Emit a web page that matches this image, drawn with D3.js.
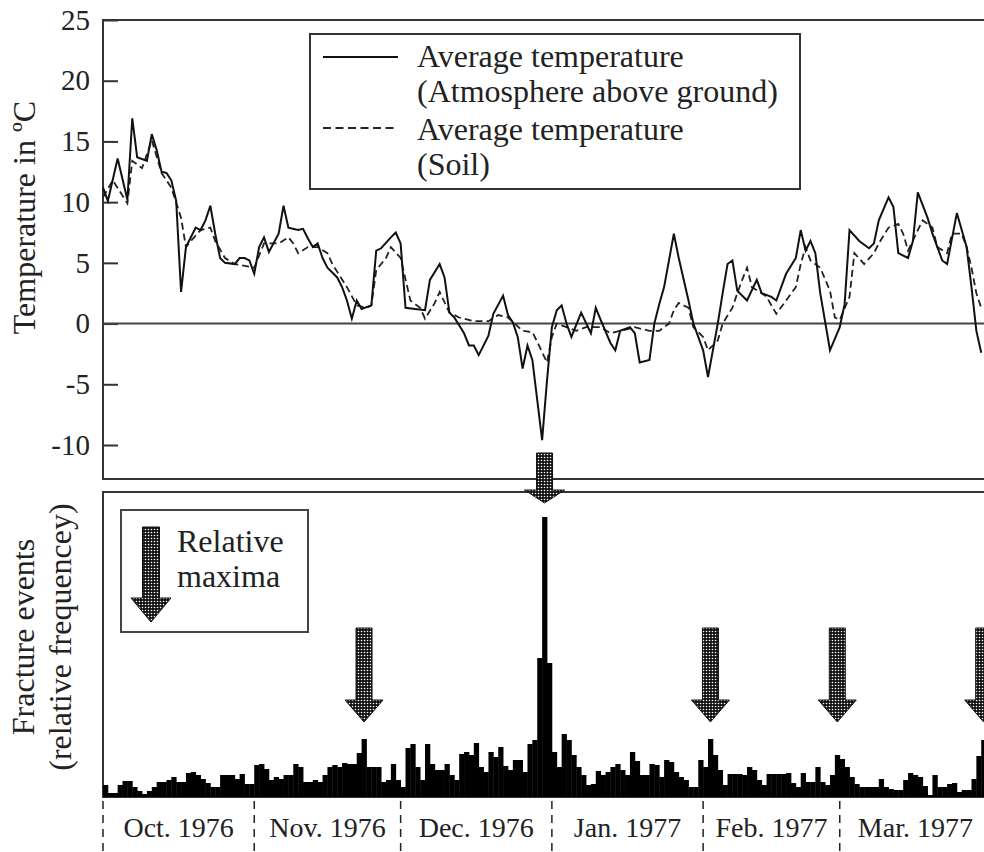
<!DOCTYPE html>
<html>
<head>
<meta charset="utf-8">
<script src="https://cdn.jsdelivr.net/npm/d3@7"></script>
<style>
  body { margin: 0; background: #fff; }
  svg { display: block; font-family: "Liberation Serif", "Times New Roman", serif; }
</style>
</head>
<body>
<div id="chart-area"></div>
<script>
// DATA
// =================

// air temperature (solid), day offset from 1 Oct 1976 -> degC
var airDays = [0, 1, 3, 5, 6, 7, 9, 10, 11, 12, 13, 14, 15, 16, 17, 19, 20, 21, 22, 23, 24, 25, 27, 28, 29, 30,
    31, 32, 33, 34, 36, 37, 38, 40, 41, 42, 43, 44, 45, 46, 48, 49, 50, 51, 52, 53, 55, 56, 57, 59, 60,
    61, 62, 64, 66, 67, 69, 70, 71, 72, 74, 75, 76, 77, 79, 80, 82, 83, 84, 85, 86, 87, 88, 90, 91,
    92, 93, 94, 95, 96, 98, 100, 101, 102, 104, 105, 106, 108, 109, 110, 112, 113, 114, 115, 117, 118, 120, 121,
    123, 124, 126, 127, 128, 129, 130, 132, 134, 135, 137, 138, 140, 142, 143, 144, 145, 146, 147, 149,
    151, 152, 153, 155, 157, 158, 159, 161, 162, 163, 165, 166, 167, 169, 170, 172, 173, 175, 176, 177, 178, 179, 180];
var airTemps = [11.2, 10.1, 13.6, 10.2, 16.9, 13.7, 13.4, 15.6, 14.3, 12.5, 12.4, 11.8, 10.1, 2.6, 6.3, 7.9, 7.7, 8.5, 9.7, 7.4, 5.4, 5.0, 4.9, 5.4, 5.4, 5.2,
    4.1, 6.3, 7.1, 5.9, 7.4, 9.7, 7.9, 7.7, 7.8, 7.0, 6.3, 6.6, 5.4, 4.6, 3.8, 3.0, 1.9, 0.4, 1.9, 1.2, 1.5, 6.0, 6.2, 7.1, 7.5,
    6.6, 1.3, 1.2, 1.1, 3.6, 4.9, 3.8, 0.9, 0.5, -0.8, -1.8, -1.8, -2.6, -1.0, 0.8, 2.3, 0.7, 0.1, -1.1, -3.7, -1.8, -3.0, -9.6, -4.7,
    -0.3, 1.1, 1.5, 0, -1.1, 0.9, -0.8, 1.3, 0.3, -1.6, -2.2, -0.6, -0.3, -0.8, -3.2, -3.0, 0, 1.6, 3.0, 7.4, 5.4, 1.9, 0,
    -2.2, -4.4, 0, 2.5, 4.9, 5.2, 2.7, 1.9, 3.6, 2.5, 2.2, 1.9, 4.1, 5.4, 7.7, 6.0, 6.8, 5.8, 2.5, -2.2,
    -0.3, 1.6, 7.7, 6.8, 6.2, 6.6, 8.5, 10.4, 9.6, 5.8, 5.4, 6.8, 10.8, 8.7, 7.4, 5.2, 4.9, 9.1, 7.7, 6.3, 3.0, -0.6, -2.4];

// soil temperature (dashed)
var soilDays = [0, 2, 5, 6, 8, 10, 12, 14, 16, 17, 18, 20, 22, 23, 25, 27,
    31, 33, 36, 38, 39, 40, 42, 44, 46, 47, 50, 52, 54, 55, 56, 58, 59,
    61, 63, 65, 66, 68, 69, 71, 73, 76, 79, 81, 83, 86, 88, 89, 91,
    92, 93, 95, 97, 99, 102, 104, 106, 109, 112, 114, 116, 117, 118, 120, 121,
    123, 124, 126, 127, 129, 130, 131, 132, 133, 135, 136, 138, 140, 142, 143, 144, 145, 147, 149, 150,
    151, 153, 154, 156, 158, 159, 161, 163, 164, 165, 167, 168, 170, 171, 173, 174, 176, 177, 178, 179, 180];
var soilTemps = [10.4, 11.8, 9.9, 13.4, 12.8, 15.1, 12.4, 11.2, 8.7, 6.3, 6.8, 7.7, 7.9, 6.8, 5.4, 4.9,
    4.6, 6.6, 6.6, 7.1, 6.6, 5.8, 6.3, 6.3, 5.8, 4.9, 3.0, 1.5, 1.3, 1.5, 4.4, 5.4, 6.3,
    5.4, 1.9, 1.3, 0.4, 1.7, 2.6, 0.9, 0.5, 0.2, 0.2, 0.7, 0.5, -0.6, -0.7, -1.5, -3.2,
    -1.1, 0, -0.3, -0.6, -0.3, -0.3, -0.8, -0.6, -0.3, -0.6, -0.6, 0, 1.1, 1.7, 1.3, -0.3,
    -1.1, -2.2, -1.4, 0, 1.3, 2.5, 3.6, 4.6, 3.0, 2.5, 2.2, 0.8, 1.9, 3.0, 4.9, 6.3, 5.2, 4.6, 2.7, 0.5,
    0.3, 2.2, 5.8, 4.9, 5.8, 6.6, 7.9, 8.2, 7.4, 6.0, 7.7, 8.5, 7.9, 6.3, 5.8, 7.4, 7.4, 6.3, 4.6, 2.5, 1.3];

// fracture events per day (relative frequency, arbitrary units)
var fracOct = [1.2, 0.4, 0.4, 1.2, 1.6, 1.6, 1.0, 0.6, 0.3, 0.6, 1.0, 1.5, 1.5, 1.7, 2.0, 1.5, 1.5, 2.4, 2.5, 2.2,
    1.8, 1.4, 1.0, 1.0, 2.2, 2.2, 2.2, 1.8, 2.3, 1.3, 1.3];
var fracNov = [3.2, 3.3, 2.8, 1.7, 2.0, 1.8, 2.2, 2.2, 3.3, 3.0, 1.5, 1.5, 1.7, 1.5, 2.2, 3.0, 3.2, 3.0, 3.4, 3.3,
    3.3, 4.4, 5.8, 3.0, 3.0, 3.0, 1.5, 1.7, 3.3, 1.7];
var fracDec = [1.0, 4.9, 5.3, 3.0, 1.7, 5.3, 3.3, 2.7, 2.7, 3.3, 2.2, 1.7, 4.3, 4.5, 4.2, 5.4, 3.0, 2.5, 4.5, 4.0,
    5.0, 3.1, 2.7, 3.7, 3.7, 2.5, 5.3, 5.7, 13.9, 28.0, 13.4];
var fracJan = [4.5, 3.0, 6.3, 5.7, 4.2, 3.0, 2.2, 1.2, 1.3, 2.6, 2.2, 2.5, 3.0, 3.3, 2.7, 2.2, 4.5, 3.6, 2.2, 2.2,
    3.3, 3.2, 2.0, 3.7, 3.5, 2.5, 2.0, 1.7, 1.0, 1.0, 3.7];
var fracFeb = [3.0, 5.8, 4.2, 2.7, 1.2, 2.3, 2.3, 2.3, 2.2, 3.0, 2.7, 1.7, 1.2, 2.3, 2.3, 2.3, 2.3, 2.4, 1.4, 1.0,
    2.4, 1.5, 1.5, 3.0, 1.5, 1.2, 2.2, 4.2];
var fracMar = [3.8, 3.0, 2.0, 1.3, 1.0, 1.0, 1.0, 1.0, 1.8, 1.0, 0.8, 0.7, 0.7, 1.7, 2.4, 2.2, 2.0, 1.1, 0.2, 2.2,
    1.0, 1.0, 1.3, 1.4, 0.5, 0.7, 0.7, 1.8, 4.1, 5.7, 5.7];

// days marked as relative maxima (arrows); the big one crosses into the top panel
var maximaDays = [53, 90, 124, 150, 180];
var mainPeakDay = 90;

var monthLabels = ['Oct. 1976', 'Nov. 1976', 'Dec. 1976', 'Jan. 1977', 'Feb. 1977', 'Mar. 1977'];
var tempTicks = [-10, -5, 0, 5, 10, 15, 20, 25];

var legendLines = ['Average temperature', '(Atmosphere above ground)', 'Average temperature', '(Soil)'];

// CANVAS
// =================
var W = 984, H = 852;
var left = 103, right = 991;
var top1 = 20, bottom1 = 479, top2 = 492, bottom2 = 797;
var ink = '#222';

var svg = d3.select('#chart-area')
    .append('svg')
        .attr('width', W)
        .attr('height', H);

var start = new Date(Date.UTC(1976, 9, 1)),
    end = new Date(Date.UTC(1977, 3, 1));
var day = d => d3.utcDay.offset(start, d);

var x = d3.scaleUtc().domain([start, end]).range([left, right]);
var yT = d3.scaleLinear().domain([-12.8, 25]).range([bottom1, top1]);
var yF = d3.scaleLinear().domain([0, 30.5]).range([bottom2, top2]);
var dayW = x(day(1)) - x(day(0));

// dotted fill for the arrows
var pat = svg.append('defs').append('pattern')
    .attr('id', 'dots')
    .attr('patternUnits', 'userSpaceOnUse')
    .attr('width', 3)
    .attr('height', 3);
pat.append('rect').attr('width', 3).attr('height', 3).attr('fill', '#111');
pat.append('circle').attr('cx', 1.5).attr('cy', 1.5).attr('r', 0.8).attr('fill', '#fff');

function arrowPath(cx, y0, y1, y2, sw, hw) {
    return 'M' + (cx - sw) + ',' + y0 + 'H' + (cx + sw) + 'V' + y1 + 'H' + (cx + hw) +
        'L' + cx + ',' + y2 + 'L' + (cx - hw) + ',' + y1 + 'H' + (cx - sw) + 'Z';
}

// TOP PANEL - temperature
// =================
svg.append('rect')
    .attr('x', left).attr('y', top1)
    .attr('width', W + 20 - left).attr('height', bottom1 - top1)
    .attr('fill', 'none').attr('stroke', '#333').attr('stroke-width', 2);

var yAxis = d3.axisLeft(yT)
    .tickValues(tempTicks)
    .tickSizeInner(-15)
    .tickSizeOuter(0)
    .tickPadding(13)
    .tickFormat(d => String(d));

svg.append('g')
    .attr('transform', 'translate(' + left + ',0)')
    .call(yAxis)
    .attr('font-family', null)
    .attr('font-size', null)
    .call(g => g.select('.domain').remove())
    .call(g => g.selectAll('.tick line').attr('stroke', '#333').attr('stroke-width', 2))
    .call(g => g.selectAll('.tick text').attr('font-size', 29).attr('fill', ink));

// zero line
svg.append('line')
    .attr('x1', left).attr('x2', W)
    .attr('y1', yT(0)).attr('y2', yT(0))
    .attr('stroke', '#444').attr('stroke-width', 2);

var line = d3.line()
    .x(d => x(day(d[0])))
    .y(d => yT(d[1]));

svg.append('path')
    .datum(d3.zip(soilDays, soilTemps))
    .attr('d', line)
    .attr('fill', 'none').attr('stroke', ink).attr('stroke-width', 1.8)
    .attr('stroke-dasharray', '7,4');

svg.append('path')
    .datum(d3.zip(airDays, airTemps))
    .attr('d', line)
    .attr('fill', 'none').attr('stroke', '#111').attr('stroke-width', 2);

svg.append('text')
    .attr('transform', 'translate(35,' + ((100 + 335) / 2) + ') rotate(-90)')
    .attr('text-anchor', 'middle')
    .attr('font-size', 32)
    .attr('fill', ink)
    .text('Temperature in \u00baC');

// legend
var lg = svg.append('g');
lg.append('rect')
    .attr('x', 310).attr('y', 34).attr('width', 490).attr('height', 155)
    .attr('fill', '#fff').attr('stroke', '#333').attr('stroke-width', 2);
lg.append('line')
    .attr('x1', 323).attr('x2', 398).attr('y1', 57).attr('y2', 57)
    .attr('stroke', '#111').attr('stroke-width', 2);
lg.append('line')
    .attr('x1', 323).attr('x2', 398).attr('y1', 128).attr('y2', 128)
    .attr('stroke', ink).attr('stroke-width', 1.8).attr('stroke-dasharray', '8,4.5');
lg.selectAll('text.leg')
    .data(legendLines)
    .enter()
    .append('text')
        .attr('class', 'leg')
        .attr('x', 417)
        .attr('y', (d, i) => [67, 102, 140, 175][i])
        .attr('font-size', 32)
        .attr('fill', ink)
        .text(d => d);

// BOTTOM PANEL - fracture events
// =================
var fractures = [].concat(fracOct, fracNov, fracDec, fracJan, fracFeb, fracMar);

svg.append('rect')
    .attr('x', left).attr('y', top2)
    .attr('width', W + 20 - left).attr('height', bottom2 - top2)
    .attr('fill', 'none').attr('stroke', '#333').attr('stroke-width', 2);

svg.append('g')
    .selectAll('rect')
    .data(fractures)
    .enter()
    .append('rect')
        .attr('x', (d, i) => x(day(i)))
        .attr('y', d => yF(d))
        .attr('width', dayW + 0.4)
        .attr('height', d => bottom2 - yF(d))
        .attr('fill', '#000');

// maxima arrows
svg.append('g')
    .selectAll('path')
    .data(maximaDays)
    .enter()
    .append('path')
        .attr('d', d => {
            var cx = x(day(d)) + dayW / 2;
            return d === mainPeakDay ?
                arrowPath(cx, 453, 490, 503, 8, 20) :
                arrowPath(cx, 628, 700, 722, 8, 19);
        })
        .attr('fill', 'url(#dots)')
        .attr('stroke', '#111').attr('stroke-width', 1);

// legend 2
var lg2 = svg.append('g');
lg2.append('rect')
    .attr('x', 121).attr('y', 510).attr('width', 187).attr('height', 122)
    .attr('fill', '#fff').attr('stroke', '#444').attr('stroke-width', 2);
lg2.append('path')
    .attr('d', arrowPath(151, 527, 598, 622, 8.5, 20))
    .attr('fill', 'url(#dots)').attr('stroke', '#111').attr('stroke-width', 1);
lg2.append('text').attr('x', 177).attr('y', 552).attr('font-size', 32).attr('fill', ink).text('Relative');
lg2.append('text').attr('x', 177).attr('y', 587).attr('font-size', 32).attr('fill', ink).text('maxima');

// y labels
svg.append('text')
    .attr('transform', 'translate(34,637) rotate(-90)')
    .attr('text-anchor', 'middle').attr('font-size', 32).attr('fill', ink)
    .text('Fracture events');
svg.append('text')
    .attr('transform', 'translate(71,637) rotate(-90)')
    .attr('text-anchor', 'middle').attr('font-size', 32).attr('fill', ink)
    .text('(relative frequencey)');

// month separators + labels
var months = d3.utcMonth.range(start, end);

svg.append('g')
    .selectAll('line')
    .data(months)
    .enter()
    .append('line')
        .attr('x1', d => x(d)).attr('x2', d => x(d))
        .attr('y1', 801).attr('y2', H)
        .attr('stroke', '#222').attr('stroke-width', 1.5)
        .attr('stroke-dasharray', '8,6');

svg.append('g')
    .selectAll('text')
    .data(months)
    .enter()
    .append('text')
        .attr('x', d => (x(d) + x(d3.utcMonth.offset(d, 1))) / 2)
        .attr('y', 837)
        .attr('text-anchor', 'middle')
        .attr('font-size', 28)
        .attr('fill', ink)
        .text((d, i) => monthLabels[i]);
</script>
</body>
</html>
